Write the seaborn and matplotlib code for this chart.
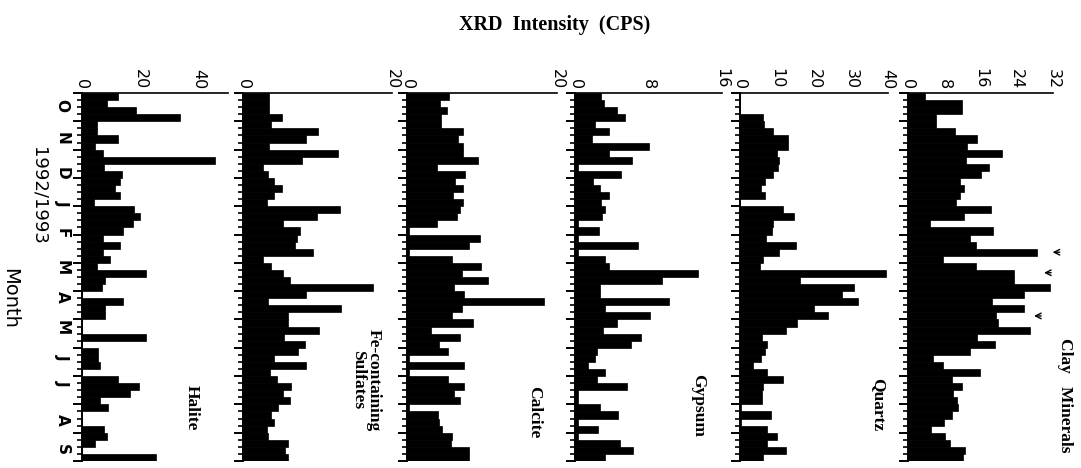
import numpy as np
import pandas as pd
import matplotlib
matplotlib.use("Agg")
import matplotlib.pyplot as plt
import matplotlib.transforms as mtransforms
import seaborn as sns

sns.set_style("ticks")
plt.rcParams["font.family"] = ["DejaVu Sans"]
plt.rcParams["text.color"] = "black"
plt.rcParams["axes.edgecolor"] = "black"
plt.rcParams["xtick.color"] = "black"
plt.rcParams["ytick.color"] = "black"

# ----------------------------------------------------
# data: weekly samples, Oct 1992 -> Sep 1993 (52 weeks)
# ----------------------------------------------------
weeks = list(range(52))
month_labels = ["O", "N", "D", "J", "F", "M", "A", "M", "J", "J", "A", "S"]
month_pos = [1.2, 5.9, 10.8, 15.0, 19.3, 24.1, 28.3, 32.6, 36.8, 40.5, 45.7, 49.9]

halite = [12.4, 8.5, 18.4, 33.4, 5.1, 5.1, 12.4, 4.4, 7.2, 45.7,
          7.5, 13.8, 13.1, 11.2, 13.1, 4.1, 17.7, 19.9, 17.4, 14.0,
          7.2, 13.1, 7.2, 9.5, 5.0, 21.9, 7.8, 7.0, 0, 14.0,
          7.8, 7.8, 0, 0, 21.9, 0, 5.5, 5.5, 6.1, 0,
          12.3, 19.4, 16.3, 6.3, 8.9, 0, 0, 7.6, 8.6, 4.4,
          0, 25.5]
fe_sulfates = [3.5, 3.5, 3.5, 5.2, 3.8, 10.0, 8.5, 3.5, 12.7, 7.9,
               2.7, 3.3, 4.1, 5.2, 4.1, 3.2, 13.0, 9.9, 5.4, 7.6,
               7.2, 7.0, 9.4, 2.7, 3.7, 5.4, 6.3, 17.5, 8.5, 3.4,
               13.2, 6.1, 6.0, 10.2, 5.5, 8.3, 7.4, 4.1, 8.5, 3.6,
               4.5, 6.4, 5.4, 6.3, 4.7, 3.8, 4.2, 3.2, 3.3, 6.0,
               5.6, 6.1]
calcite = [5.6, 4.4, 5.3, 4.5, 4.5, 7.5, 6.8, 7.5, 7.5, 9.4,
           4.0, 7.7, 6.4, 7.5, 6.1, 7.4, 7.0, 6.6, 4.0, 0.3,
           9.7, 8.3, 0.3, 6.0, 9.8, 7.3, 10.8, 6.3, 7.6, 18.3,
           7.3, 6.0, 8.8, 3.2, 7.0, 4.2, 5.4, 0.3, 7.6, 0.3,
           5.5, 7.6, 6.2, 7.0, 0.3, 4.1, 4.3, 4.7, 6.0, 5.8,
           8.3, 8.3]
gypsum = [2.8, 3.2, 4.6, 5.4, 2.2, 3.7, 1.8, 8.0, 3.7, 6.2,
          0.3, 5.0, 2.0, 2.7, 3.7, 2.8, 3.3, 2.9, 0.3, 2.6,
          0.3, 6.9, 0.3, 3.3, 3.7, 13.4, 9.5, 2.7, 2.7, 10.2,
          3.3, 8.2, 4.6, 3.0, 7.2, 6.1, 2.4, 2.2, 1.4, 3.3,
          2.4, 5.7, 0.3, 0.3, 2.7, 4.7, 0.3, 2.5, 0.3, 4.9,
          6.3, 3.3]
quartz = [0, 0, 0, 6.3, 6.5, 8.8, 12.9, 12.9, 9.9, 10.6,
          10.2, 8.8, 6.8, 5.6, 6.8, 0, 11.5, 14.7, 9.0, 8.6,
          7.0, 15.0, 10.5, 6.3, 5.4, 39.5, 16.2, 30.8, 27.5, 31.8,
          20.0, 23.9, 15.5, 12.4, 5.9, 7.2, 6.8, 5.6, 3.4, 7.2,
          11.7, 6.1, 6.0, 5.9, 0.3, 8.3, 0.3, 7.2, 9.9, 7.2,
          12.4, 6.3]
clay = [3.8, 12.0, 12.0, 6.1, 6.1, 10.3, 15.2, 13.0, 20.8, 12.7,
        17.8, 16.0, 11.5, 12.3, 11.5, 10.7, 18.4, 12.4, 4.8, 18.8,
        13.6, 15.1, 28.5, 7.7, 15.1, 23.5, 23.5, 31.3, 25.5, 18.6,
        25.7, 19.5, 19.9, 27.0, 15.2, 19.1, 13.6, 5.5, 7.7, 15.8,
        9.6, 12.0, 9.9, 10.8, 11.0, 9.6, 8.0, 5.0, 8.1, 9.3,
        12.5, 12.1]

# arrows in the clay panel (week, value at arrow tip)
arrow_weeks = [22.0, 24.9, 31.0]
arrow_vals = [31.3, 29.4, 27.2]

names = ["Halite", "Fe-containing\nSulfates", "Calcite", "Gypsum", "Quartz", "Clay   Minerals"]
series = [halite, fe_sulfates, calcite, gypsum, quartz, clay]
xmax = [50, 20, 20, 16, 40, 32]
xticks = [[0, 20, 40], [0, 20], [0, 20], [0, 8, 16], [0, 10, 20, 30, 40], [0, 8, 16, 24, 32]]

# layout in pixels (figure is 1081 x 468)
W, H = 1081, 468
left_px = [82, 243, 407, 575, 740, 908]
right_px = [228, 392, 557, 722, 888, 1053]
top_px, bottom_px = 93, 461
label_px = [(192, 408), (366, 380), (534, 412), (698, 405), (878, 405), (1065, 395)]

fig = plt.figure(figsize=(W / 100, H / 100), dpi=100)

axes = []
for i in range(6):
    ax = fig.add_axes([left_px[i] / W, 1 - bottom_px / H,
                       (right_px[i] - left_px[i]) / W, (bottom_px - top_px) / H])
    df = pd.DataFrame({"week": weeks, "value": series[i]})
    sns.barplot(data=df, x="value", y="week", orient="h", color="black",
                width=1.0, saturation=1, errorbar=None,
                edgecolor="black", linewidth=0.5, ax=ax)
    ax.set_xlim(0, xmax[i])
    ax.set_ylim(51.5, -0.5)
    ax.set_xlabel("")
    ax.set_ylabel("")

    ax.xaxis.tick_top()
    ax.set_xticks(xticks[i])
    ax.set_xticklabels([str(t) for t in xticks[i]])
    ax.tick_params(axis="x", which="major", direction="in", length=4, width=1.2,
                   labelrotation=-90, labelsize=11.5, pad=3)

    ax.set_yticks(np.arange(-0.5, 52, 4))
    ax.set_yticks(np.arange(-0.5, 52, 1), minor=True)
    ax.tick_params(axis="y", which="major", direction="out", length=6.5, width=1.4,
                   labelleft=False, right=False)
    ax.tick_params(axis="y", which="minor", direction="out", length=3.5, width=1.2,
                   right=False)

    sns.despine(ax=ax, top=False, right=True, bottom=True, left=False)
    ax.spines["top"].set_linewidth(1.2)
    ax.spines["left"].set_linewidth(1.4)

    fig.text(label_px[i][0] / W, 1 - label_px[i][1] / H, names[i],
             rotation=-90, ha="center", va="center", fontsize=12.5,
             fontweight="bold", family="Liberation Serif", linespacing=1.0)
    axes.append(ax)

# month letters beside the first panel
trans = mtransforms.blended_transform_factory(axes[0].transAxes, axes[0].transData)
for lab, pos in zip(month_labels, month_pos):
    axes[0].text(-0.137, pos, lab, transform=trans, rotation=-90,
                 ha="center", va="center", fontsize=11, fontweight="bold")

# arrows on clay panel
for wk, val in zip(arrow_weeks, arrow_vals):
    axes[5].annotate("", xy=(val, wk), xytext=(val + 2.8, wk),
                     arrowprops=dict(arrowstyle="->", lw=1.0, color="black"),
                     annotation_clip=False)

fig.text(555 / W, 1 - 25 / H, "XRD  Intensity  (CPS)", ha="center", va="center",
         fontsize=14.5, fontweight="bold", family="Liberation Serif")
fig.text(38 / W, 1 - 196 / H, "1992/1993", rotation=-90, ha="center", va="center",
         fontsize=13)
fig.text(10 / W, 1 - 298 / H, "Month", rotation=-90, ha="center", va="center",
         fontsize=14)

fig.savefig("out.png", dpi=100)
